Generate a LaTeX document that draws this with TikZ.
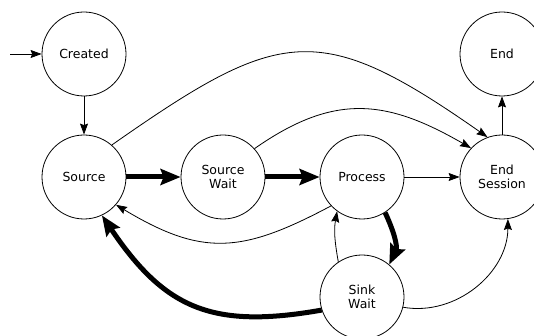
\documentclass[tikz,border=0pt]{standalone}
\usepackage{fontspec}
\setmainfont{DejaVu Sans}
\usetikzlibrary{arrows.meta}

\tikzset{
 state/.style={circle,draw,line width=0.8pt,minimum size=84pt,inner sep=0pt,align=center,font=\fontsize{12.5}{14}\selectfont},
 edge/.style={line width=0.8pt,-{Stealth[length=11pt,width=8pt,inset=1.5pt]}},
 heavy/.style={line width=5pt,-{Stealth[length=20pt,width=16pt,inset=3pt]}}
}

\begin{document}
\begin{tikzpicture}[x=1pt,y=1pt]
 \useasboundingbox (0,0) rectangle (534,336);
 \coordinate (start) at (10,282);
 \node[state] (created) at (84,282) {Created};
 \node[state] (source) at (84,159) {Source};
 \node[state] (srcwait) at (223,159) {Source\\Wait};
 \node[state] (process) at (362,159) {Process};
 \node[state] (endsess) at (502,159) {End\\Session};
 \node[state] (end) at (502,282) {End};
 \node[state] (sinkwait) at (362,39) {Sink\\Wait};

 \draw[edge] (start) -- (created);
 \draw[edge] (created) -- (source);
 \draw[heavy] (source) -- (srcwait);
 \draw[heavy] (srcwait) -- (process);
 \draw[edge] (process) -- (endsess);
 \draw[edge] (endsess) -- (end);

 \draw[edge] (source.49) to[out=35,in=145,looseness=1.4] (endsess.110);
 \draw[edge] (srcwait.42) to[out=35,in=150,looseness=1.15] (endsess.137);
 \draw[edge] (process.223) to[out=208,in=-31,looseness=1.2] (source.-41);
 \draw[heavy] (process.-57) to[out=-65,in=65] (sinkwait.50);
 \draw[edge] (sinkwait.124) to[out=100,in=-100] (process.234);
 \draw[heavy] (sinkwait.198) to[out=190,in=-56,looseness=1.2] (source.-65);
 \draw[edge] (sinkwait.-14) to[out=-10,in=-90] (endsess.-82);
\end{tikzpicture}
\end{document}
